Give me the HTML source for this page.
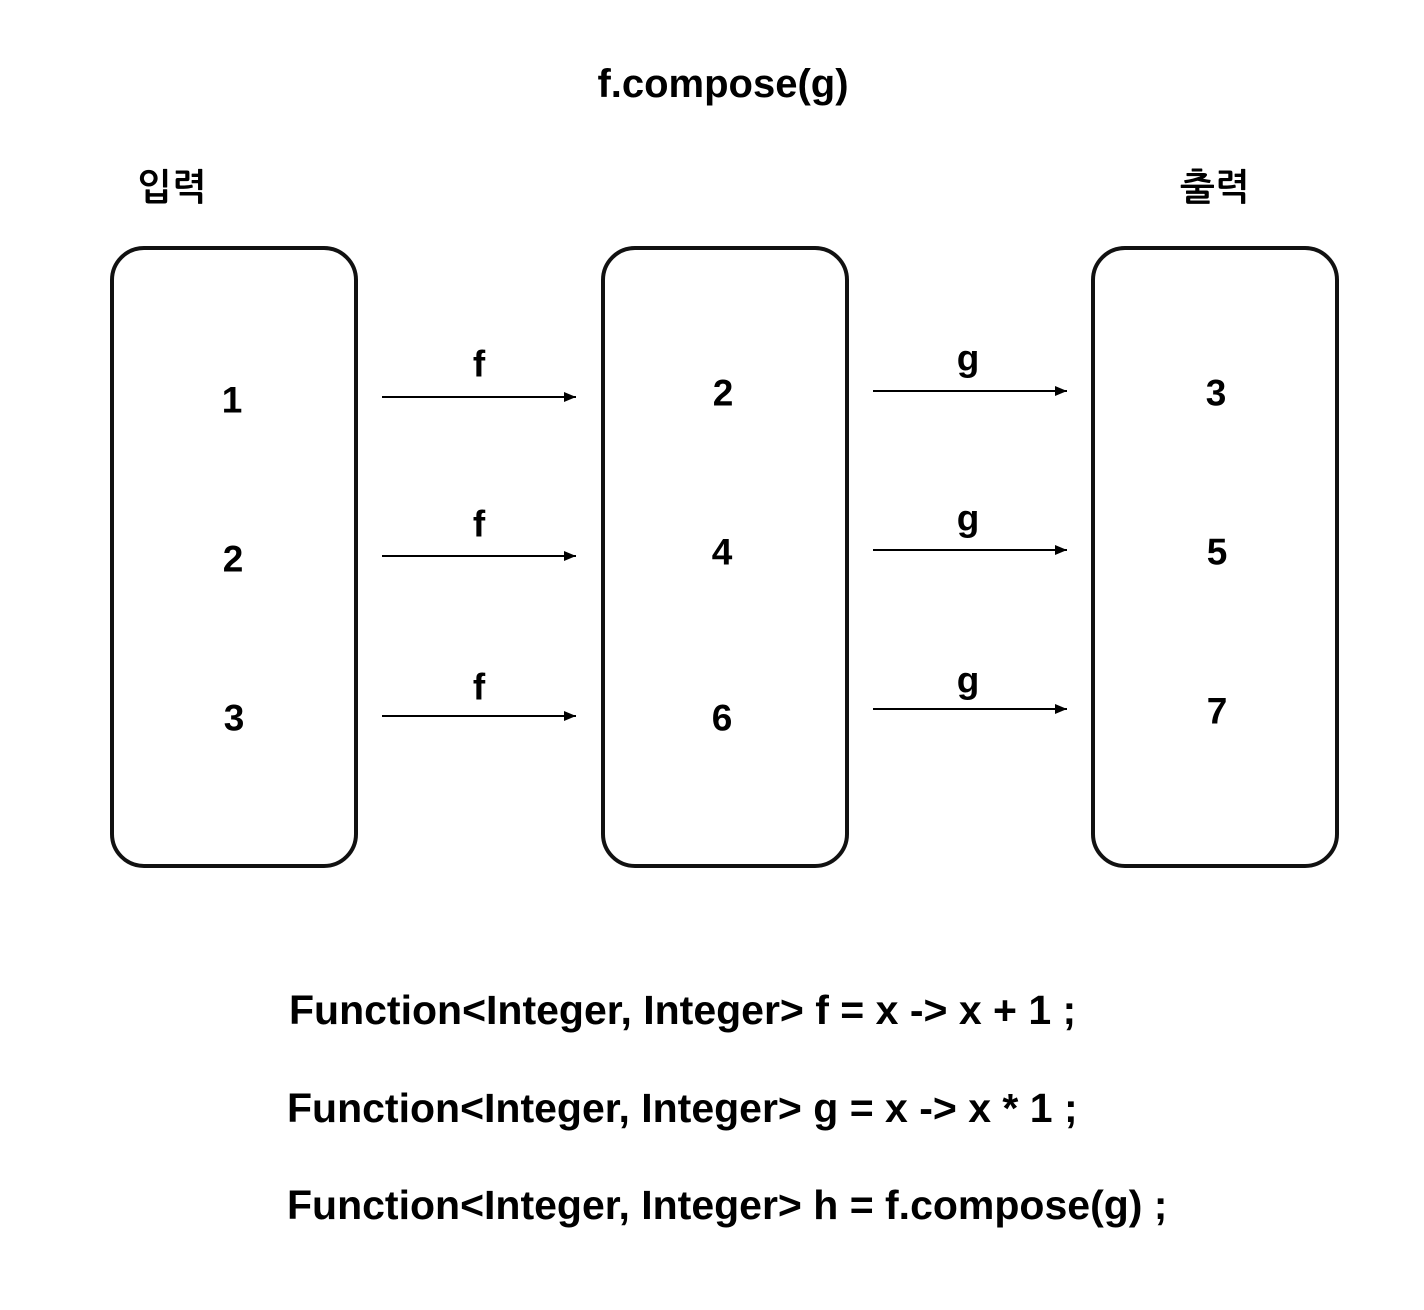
<!DOCTYPE html>
<html><head><meta charset="utf-8"><style>
body{margin:0;width:1424px;height:1310px;background:#fff;position:relative;font-family:"Liberation Sans","NanumGothic","Noto Sans CJK KR",sans-serif;font-weight:bold;color:#000;overflow:hidden}
.t{position:absolute;white-space:nowrap;line-height:1}
.box{position:absolute;top:246px;width:240px;height:614px;border:4px solid #111;border-radius:34px}
.n{position:absolute;font-size:37px;transform:translate(-50%,-50%);line-height:1}
</style></head><body>
<div class="t" style="left:0;width:1446px;text-align:center;top:64px;font-size:40px">f.compose(g)</div>
<div class="t" style="left:137px;top:169px;font-size:37px">입력</div>
<div class="t" style="left:1180px;top:169px;font-size:37px">출력</div>
<div class="box" style="left:110px"></div>
<div class="box" style="left:601px"></div>
<div class="box" style="left:1091px"></div>
<div class="n" style="left:232px;top:400px">1</div>
<div class="n" style="left:233px;top:559px">2</div>
<div class="n" style="left:234px;top:718px">3</div>
<div class="n" style="left:723px;top:393px">2</div>
<div class="n" style="left:722px;top:552px">4</div>
<div class="n" style="left:722px;top:718px">6</div>
<div class="n" style="left:1216px;top:393px">3</div>
<div class="n" style="left:1217px;top:552px">5</div>
<div class="n" style="left:1217px;top:711px">7</div>
<div class="n" style="left:479px;top:364px">f</div>
<div class="n" style="left:479px;top:524px">f</div>
<div class="n" style="left:479px;top:687px">f</div>
<div class="n" style="left:968px;top:358px">g</div>
<div class="n" style="left:968px;top:518px">g</div>
<div class="n" style="left:968px;top:680px">g</div>
<svg width="1424" height="1310" style="position:absolute;left:0;top:0">
<defs><marker id="a" markerWidth="12" markerHeight="10" refX="12" refY="5" orient="auto" markerUnits="userSpaceOnUse"><path d="M0,0L12,5L0,10z"/></marker></defs>
<g stroke="#000" stroke-width="2" marker-end="url(#a)">
<line x1="382" y1="397" x2="576" y2="397"/><line x1="382" y1="556" x2="576" y2="556"/><line x1="382" y1="716" x2="576" y2="716"/>
<line x1="873" y1="391" x2="1067" y2="391"/><line x1="873" y1="550" x2="1067" y2="550"/><line x1="873" y1="709" x2="1067" y2="709"/>
</g></svg>
<div class="t" style="left:289px;top:990px;font-size:41px">Function&lt;Integer, Integer&gt; f = x -&gt; x + 1 ;</div>
<div class="t" style="left:287px;top:1088px;font-size:41px">Function&lt;Integer, Integer&gt; g = x -&gt; x * 1 ;</div>
<div class="t" style="left:287px;top:1185px;font-size:41px">Function&lt;Integer, Integer&gt; h = f.compose(g) ;</div>
</body></html>
